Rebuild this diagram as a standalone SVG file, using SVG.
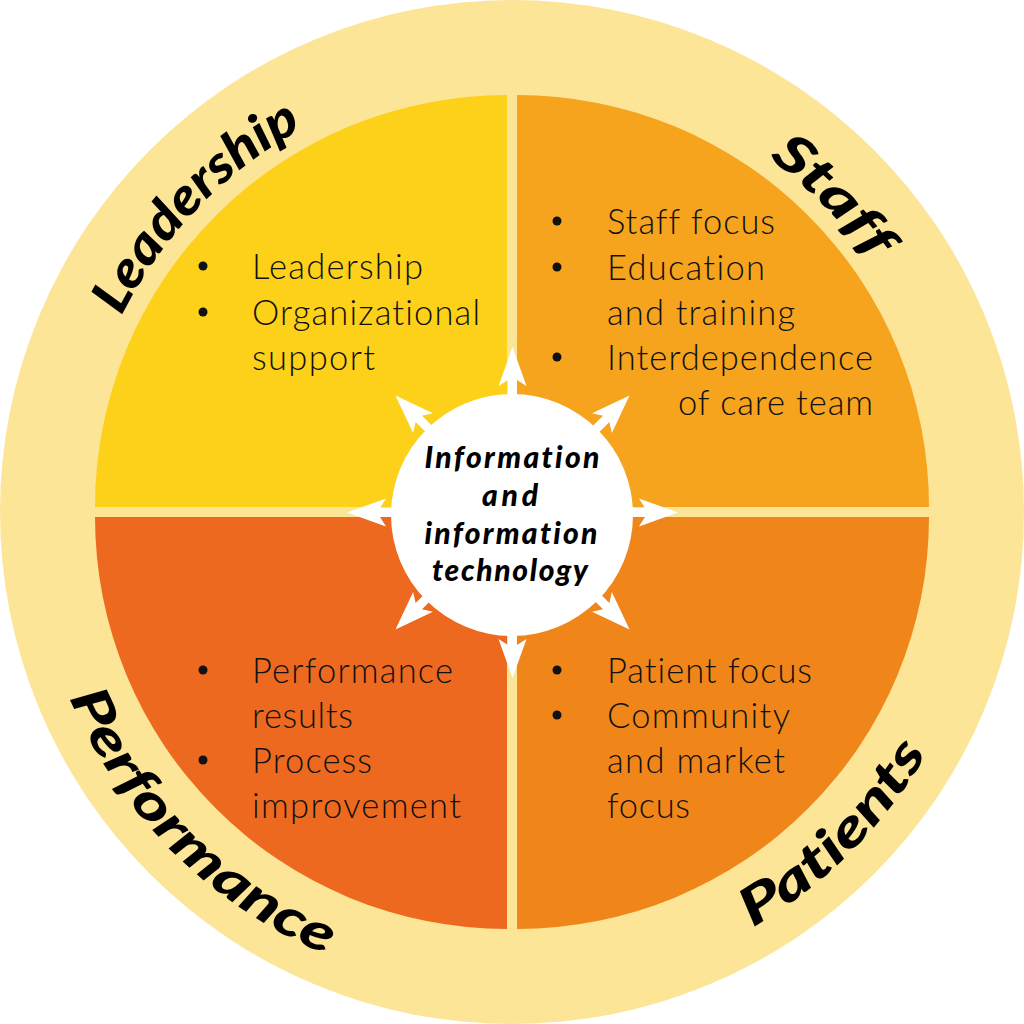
<svg xmlns="http://www.w3.org/2000/svg" width="1024" height="1024" viewBox="0 0 1024 1024">
  <defs>
    <style>
      text { font-variant-ligatures: none; }
      .body { font-family: Lato, "Open Sans", "Liberation Sans", sans-serif; font-weight: 300; font-size: 34.5px; fill: #111; }
      .title { font-family: Lato, "DejaVu Sans", sans-serif; font-weight: 900; font-style: italic; font-size: 52px; fill: #000; }
      .center { font-family: Lato, "DejaVu Sans", sans-serif; font-weight: 900; font-style: italic; font-size: 30px; fill: #000; text-anchor: middle; }
      .bullet { fill: #111; }
      .arrow { fill: #fff; }
    </style>
    <path id="arcLead" d="M76.1,481.5 A437,437 0 0 1 466.3,77.4"/>
    <path id="arcStaff" d="M553.9,77.0 A437,437 0 0 1 947.7,477.7"/>
    <path id="arcPerf" d="M33.8,553.8 A480,480 0 0 0 470.2,990.2"/>
    <path id="arcPat" d="M553.8,990.2 A480,480 0 0 0 990.2,553.8"/>
    <path id="arrowUp" d="M512.5,347 L526.5,386 L517,380 L517,425 L508,425 L508,380 L498.5,386 Z"/>
  </defs>

  <rect width="1024" height="1024" fill="#ffffff"/>
  <g id="outer-ring">
    <circle cx="512" cy="512" r="512" fill="#FDE598"/>
  </g>

  <g id="quadrant-leadership">
    <path d="M507,507 L95,507 A412,412 0 0 1 507,95 Z" fill="#FDD019"/>
    <g class="bullet"><circle cx="203" cy="266" r="4.5"/><circle cx="203" cy="312" r="4.5"/></g>
    <text class="body" x="252" y="279" textLength="171">Leadership</text>
    <text class="body" x="252" y="325" textLength="228">Organizational</text>
    <text class="body" x="252" y="370" textLength="123">support</text>
    <text class="title" textLength="265" lengthAdjust="spacingAndGlyphs"><textPath href="#arcLead" startOffset="50%" text-anchor="middle">Leadership</textPath></text>
  </g>

  <g id="quadrant-staff">
    <path d="M517,507 L517,95 A412,412 0 0 1 929,507 Z" fill="#F6A31E"/>
    <g class="bullet"><circle cx="557" cy="221" r="4.5"/><circle cx="557" cy="267" r="4.5"/><circle cx="557" cy="357" r="4.5"/></g>
    <text class="body" x="607" y="234" textLength="168">Staff focus</text>
    <text class="body" x="607" y="280" textLength="158">Education</text>
    <text class="body" x="607" y="325" textLength="188">and training</text>
    <text class="body" x="607" y="370" textLength="266">Interdependence</text>
    <text class="body" x="678" y="415" textLength="195">of care team</text>
    <text class="title" textLength="145" lengthAdjust="spacingAndGlyphs"><textPath href="#arcStaff" startOffset="50%" text-anchor="middle">Staff</textPath></text>
  </g>

  <g id="quadrant-performance">
    <path d="M507,517 L507,929 A412,412 0 0 1 95,517 Z" fill="#EC691F"/>
    <g class="bullet"><circle cx="203" cy="670" r="4.5"/><circle cx="203" cy="760" r="4.5"/></g>
    <text class="body" x="252" y="683" textLength="201">Performance</text>
    <text class="body" x="252" y="728" textLength="101">results</text>
    <text class="body" x="252" y="773" textLength="120">Process</text>
    <text class="body" x="252" y="818" textLength="209">improvement</text>
    <text class="title" textLength="372" lengthAdjust="spacingAndGlyphs"><textPath href="#arcPerf" startOffset="50%" text-anchor="middle">Performance</textPath></text>
  </g>

  <g id="quadrant-patients">
    <path d="M517,517 L929,517 A412,412 0 0 1 517,929 Z" fill="#F0861A"/>
    <g class="bullet"><circle cx="557" cy="670" r="4.5"/><circle cx="557" cy="715" r="4.5"/></g>
    <text class="body" x="607" y="683" textLength="205">Patient focus</text>
    <text class="body" x="607" y="728" textLength="183">Community</text>
    <text class="body" x="607" y="773" textLength="178">and market</text>
    <text class="body" x="607" y="818" textLength="83">focus</text>
    <text class="title" textLength="250" lengthAdjust="spacingAndGlyphs"><textPath href="#arcPat" startOffset="50%" text-anchor="middle">Patients</textPath></text>
  </g>

  <g id="connectors">
    <use href="#arrowUp" class="arrow"/>
    <use href="#arrowUp" class="arrow" transform="rotate(45 512.5 512.5)"/>
    <use href="#arrowUp" class="arrow" transform="rotate(90 512.5 512.5)"/>
    <use href="#arrowUp" class="arrow" transform="rotate(135 512.5 512.5)"/>
    <use href="#arrowUp" class="arrow" transform="rotate(180 512.5 512.5)"/>
    <use href="#arrowUp" class="arrow" transform="rotate(225 512.5 512.5)"/>
    <use href="#arrowUp" class="arrow" transform="rotate(270 512.5 512.5)"/>
    <use href="#arrowUp" class="arrow" transform="rotate(315 512.5 512.5)"/>
  </g>

  <g id="center-node">
    <circle cx="512" cy="515" r="121" fill="#ffffff"/>
    <text class="center" x="512" y="468" textLength="175">Information</text>
    <text class="center" x="510" y="506" textLength="56">and</text>
    <text class="center" x="511" y="544" textLength="173">information</text>
    <text class="center" x="510" y="581" textLength="156">technology</text>
  </g>
</svg>
